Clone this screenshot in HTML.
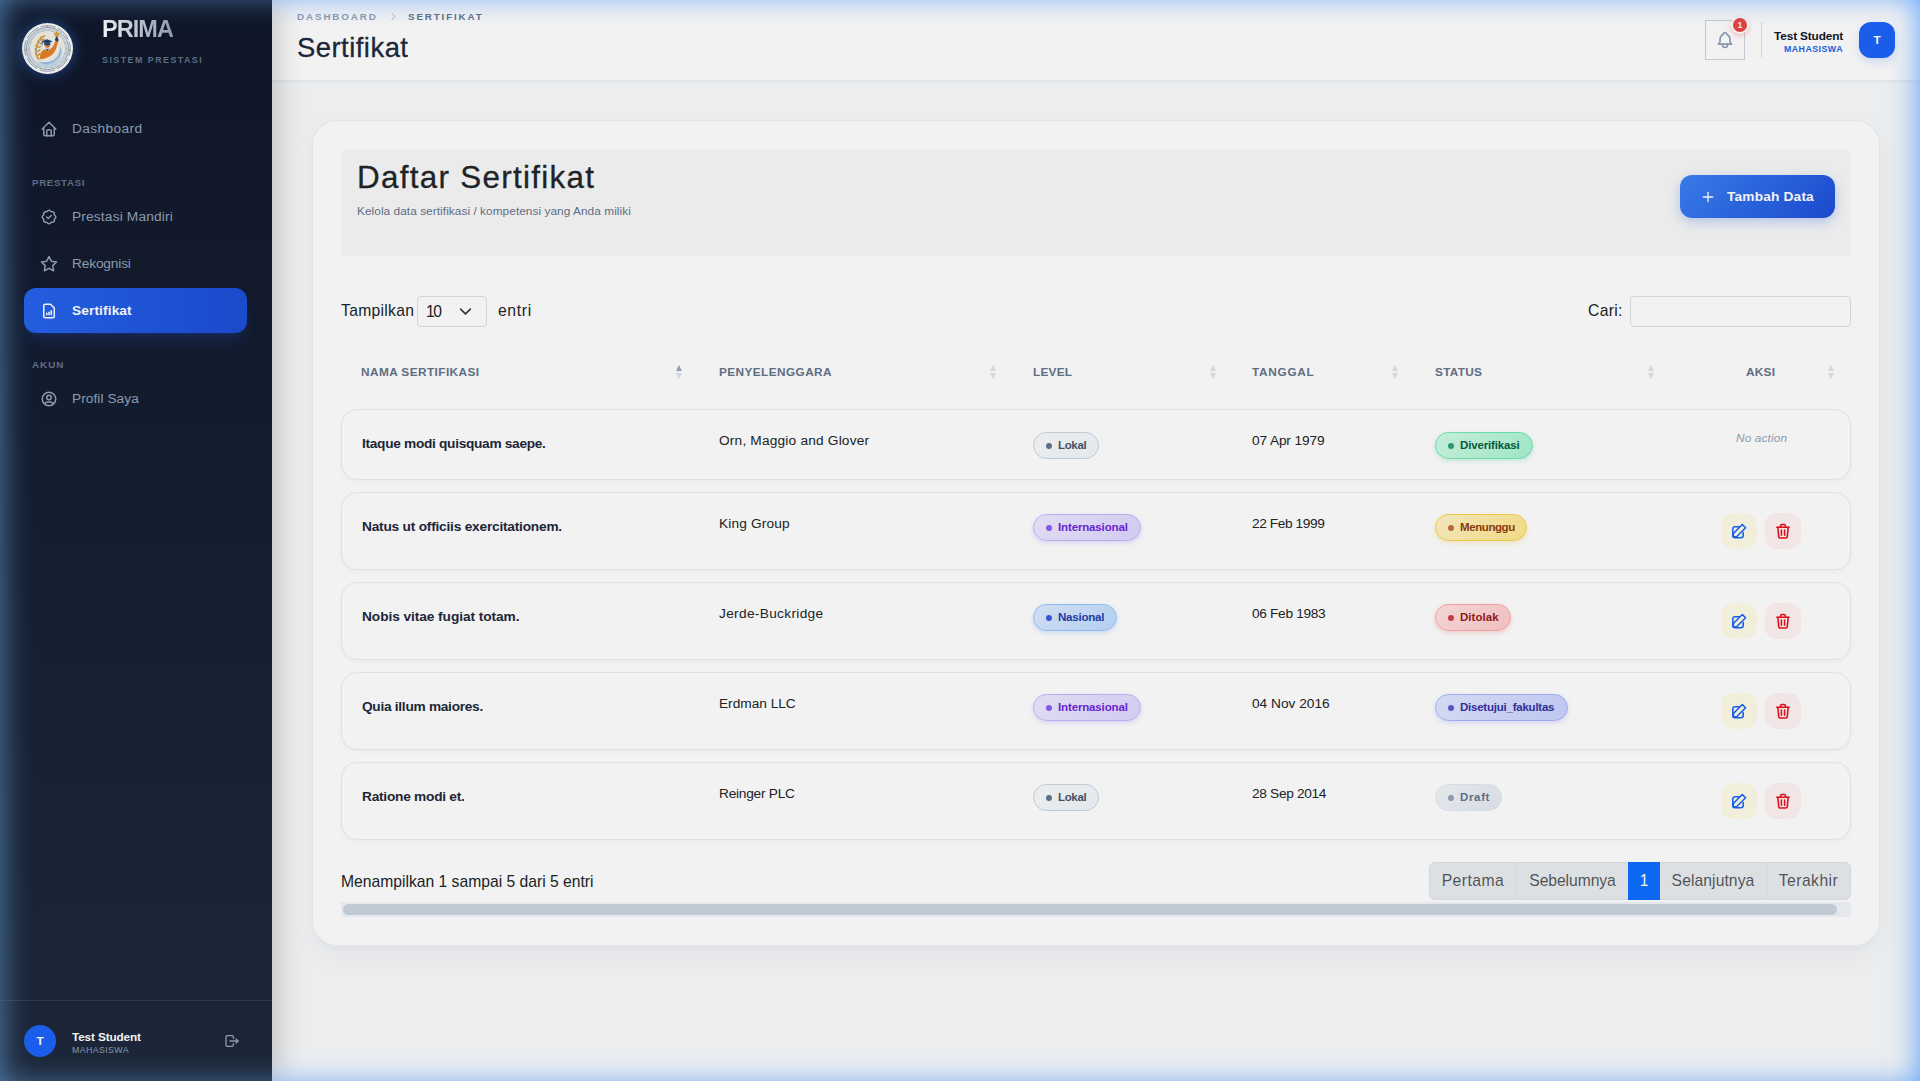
<!DOCTYPE html>
<html lang="id"><head>
<meta charset="utf-8">
<title>Sertifikat - PRIMA Sistem Prestasi</title>
<style>
:root{--f:"Liberation Sans",sans-serif}
*{box-sizing:border-box;margin:0;padding:0}
html,body{width:1920px;height:1081px;overflow:hidden}
body{position:relative;background:#f8fafc;font-family:var(--f);color:#212529;font-size:16px}
.a{position:absolute;white-space:nowrap;display:block}
svg{display:block;overflow:visible}
.ic{fill:none;stroke:currentColor;stroke-width:2;stroke-linecap:round;stroke-linejoin:round}

/* ---------- sidebar ---------- */
#sb{left:0;top:0;width:272px;height:1081px;background:linear-gradient(180deg,#0f172a,#1e293b);box-shadow:4px 0 28px rgba(0,0,0,.2);z-index:30;color:#94a3b8}
#logo{left:22px;top:23px;width:51px;height:51px;border-radius:50%;box-shadow:0 0 14px rgba(59,130,246,.55)}
#brand{left:102px;top:12px;font-size:24px;line-height:32px;font-weight:800;letter-spacing:-1.2px;color:#e2e8f0;background:linear-gradient(90deg,#ffffff,#94a3b8);-webkit-background-clip:text;background-clip:text;-webkit-text-fill-color:transparent}
#tag{left:102px;top:53px;font-size:9px;line-height:15px;font-weight:700;letter-spacing:1.8px;color:#64748b}
.sec{left:32px;font-size:10px;line-height:15px;font-weight:700;letter-spacing:1px;color:#64748b}
.nv{left:24px;width:223px;height:45px;border-radius:12px;color:#94a3b8;font-size:14px;font-weight:500}
.nv svg{position:absolute;left:16px;top:13.5px;width:18px;height:18px}
.nv span{position:absolute;left:48px;top:12px;line-height:21px}
.nv.on{background:linear-gradient(90deg,#2563eb,#1d4ed8);color:#fff;box-shadow:0 10px 15px -3px rgba(30,58,138,.45),0 4px 6px -4px rgba(30,58,138,.45)}
#sbf{left:0;top:1000px;width:272px;height:81px;border-top:1px solid rgba(51,65,85,.9)}
#sbav{left:24px;top:1025px;width:32px;height:32px;border-radius:50%;background:#1d62f8;color:#fff;font-size:12px;font-weight:700;line-height:32px;text-align:center}
#sbn{left:72px;top:1028px;font-size:12px;line-height:18px;font-weight:700;color:#fff}
#sbr{left:72px;top:1043px;font-size:9px;line-height:15px;font-weight:500;letter-spacing:.45px;color:#94a3b8}
#sbo{left:224px;top:1033px;width:16px;height:16px;color:#94a3b8}

/* ---------- header ---------- */
#hd{left:272px;top:0;width:1648px;height:81px;background:#fff;border-bottom:1px solid #edf0f4;box-shadow:0 1px 4px rgba(0,0,0,.045);z-index:20}
.bc{top:9px;font-size:10px;line-height:15px;font-weight:700;letter-spacing:2px}
#ttl{left:297px;top:29px;font-size:28px;line-height:36px;font-weight:500;letter-spacing:-.7px;color:#1e293b;-webkit-text-stroke:.3px #1e293b}
#bell{left:1705px;top:20px;width:40px;height:40px;border:1px solid #cbd5e1;color:#94a3b8}
#bell svg{position:absolute;left:9px;top:9px;width:20px;height:20px}
#bdg{left:1731px;top:16px;width:18px;height:18px;border-radius:50%;background:#ef4444;border:2px solid #fff;color:#fff;font-size:9px;font-weight:700;line-height:14px;text-align:center;box-shadow:0 2px 5px rgba(239,68,68,.3)}
#dv{left:1761px;top:22px;width:1px;height:36px;background:#dbe2ea}
#un{left:1643px;width:200px;top:27px;font-size:12px;line-height:18px;font-weight:700;color:#0f172a;text-align:right}
#ur{left:1643px;width:200px;top:42px;font-size:9px;line-height:15px;font-weight:700;letter-spacing:.45px;color:#2563eb;text-align:right}
#av{left:1859px;top:22px;width:36px;height:36px;border-radius:12px;background:#1d62f8;color:#fff;font-size:12px;font-weight:700;line-height:36px;text-align:center;box-shadow:0 4px 10px rgba(37,99,235,.18)}

/* ---------- card ---------- */
#card{left:312px;top:120px;width:1568px;height:826px;background:#fff;border:1px solid #eef2f6;border-radius:25px;box-shadow:0 10px 28px rgba(15,23,42,.04),0 2px 6px rgba(15,23,42,.025)}
#ch{left:341px;top:149px;width:1510px;height:107px;background:#f8f8f8;border-radius:5px}
#h2{left:357px;top:158px;font-size:32px;line-height:38px;font-weight:500;color:#212529;-webkit-text-stroke:.3px #212529}
#sub{left:357px;top:202px;font-size:12px;line-height:18px;color:#64748b}
#add{left:1680px;top:175px;width:155px;height:43px;border-radius:12px;background:linear-gradient(135deg,#3b82f6,#1d4ed8);color:#fff;box-shadow:0 4px 12px rgba(37,99,235,.28)}
#add svg{position:absolute;left:20px;top:13.5px;width:16px;height:16px}
#add span{position:absolute;left:47px;top:11px;font-size:14px;line-height:21px;font-weight:600}
.t16{font-size:16px;line-height:24px;color:#212529}
#sel{left:417px;top:296px;width:70px;height:31px;border:1px solid #dee2e6;border-radius:4px;background:#fff}
#sel span{position:absolute;left:8px;top:2px;font-size:16px;line-height:24px;color:#212529}
#sel svg{position:absolute;left:41px;top:8px;width:13px;height:13px;color:#343a40}
#srch{left:1630px;top:296px;width:221px;height:31px;border:1px solid #dee2e6;border-radius:4px;background:#fff}

.th{top:363px;font-size:12px;line-height:18px;font-weight:700;letter-spacing:.6px;color:#64748b}
.so{top:365px;width:8px;height:14px}
.so i{position:absolute;left:1px;width:0;height:0;border-left:3px solid transparent;border-right:3px solid transparent}
.so .u{top:-.5px;border-bottom:6px solid #e0e4e9}
.so .d{top:8px;border-top:6px solid #e0e4e9}
.so.asc .u{border-bottom-color:#9aa8bb}

.row{left:341px;width:1510px;background:#fff;border:1px solid #e9eef3;border-radius:16px;box-shadow:0 2px 4px rgba(15,23,42,.03)}
.nm{left:362px;font-size:14px;line-height:28px;font-weight:600;color:#1e293b}
.tx{font-size:14px;line-height:21px;color:#212529}
.bd{height:27px;border-radius:14px;border:1px solid;font-size:11.7px;font-weight:600;line-height:25px}
.bd i{position:absolute;left:12px;top:9.5px;width:6px;height:6px;border-radius:50%}
.bd span{position:absolute;left:24px;top:0}
.lok{background:linear-gradient(135deg,#f8fafc,#f1f5f9);border-color:#cbd5e1;color:#475569}.lok i{background:#64748b}
.int{background:linear-gradient(135deg,#ede9fe,#ddd6fe);border-color:#c4b5fd;color:#6d28d9;box-shadow:0 2px 5px rgba(139,92,246,.2)}.int i{background:#8b5cf6}
.nas{background:linear-gradient(135deg,#dbeafe,#bfdbfe);border-color:#93c5fd;color:#1e40af;box-shadow:0 2px 5px rgba(59,130,246,.2)}.nas i{background:#3b5bdb}
.ver{background:linear-gradient(135deg,#d1fae5,#a7f3d0);border-color:#6ee7b7;color:#065f46;box-shadow:0 2px 5px rgba(16,185,129,.2)}.ver i{background:#2f9e78}
.mng{background:linear-gradient(135deg,#fef3c7,#fde68a);border-color:#fcd34d;color:#92400e;box-shadow:0 2px 5px rgba(245,158,11,.2)}.mng i{background:#c2703a}
.tlk{background:linear-gradient(135deg,#fee2e2,#fecaca);border-color:#fca5a5;color:#991b1b;box-shadow:0 2px 5px rgba(239,68,68,.2)}.tlk i{background:#d14343}
.fak{background:linear-gradient(135deg,#e0e7ff,#c7d2fe);border-color:#a5b4fc;color:#3730a3;box-shadow:0 2px 5px rgba(99,102,241,.2)}.fak i{background:#5b5bd6}
.drf{background:linear-gradient(135deg,#f1f5f9,#e2e8f0);border-color:#e2e8f0;color:#64748b}.drf i{background:#94a3b8}
.na{left:1736px;font-size:12px;line-height:18px;font-style:italic;color:#94a3b8;width:51px;text-align:center}
.bt{width:36px;height:36px;border-radius:12px}
.bt svg{position:absolute;left:10px;top:10px;width:16px;height:16px}
.ed{left:1721px;background:#fefce8;color:#1a62f5}
.dl{left:1765px;background:#fef2f2;color:#e60f1e}

#info{left:341px;top:869px}
#pg{left:1429px;top:862px;width:422px;height:38px}
#pg span{position:absolute;top:0;height:38px;line-height:36px;font-size:16px;color:rgba(33,37,41,.75);text-align:center;border:1px solid #dee2e6;background:#e9ecef}
#pg span.on{background:#0d6efd;color:#fff;border-color:#0d6efd;z-index:2}
#trk{left:341px;top:902px;width:1510px;height:15px;background:#f1f5f9}
#thm{left:343px;top:904px;width:1494px;height:11px;border-radius:6px;background:#cbd5e1}

#dim{left:0;top:0;width:1920px;height:1081px;background:rgba(0,0,0,.05);z-index:90;pointer-events:none}
.gl{top:0;height:1081px;overflow:hidden;z-index:91;pointer-events:none}
.gl i{position:absolute;top:-6px;width:1920px;height:1093px}
#gl1{left:0;width:272px}#gl1 i{left:0;box-shadow:inset 0 0 32px rgba(90,140,190,.95)}
#gl2{left:272px;width:1648px}#gl2 i{left:-272px;box-shadow:inset 0 0 30px rgba(66,146,255,.9)}
</style>
</head>
<body>

<!-- SIDEBAR -->
<aside id="sb" class="a">
  <div id="logo" class="a"><svg viewBox="0 0 100 100" width="51" height="51"><circle cx="50" cy="50" r="50" fill="#fbfaf6"></circle><circle cx="50" cy="50" r="44.6" fill="none" stroke="#7388a5" stroke-width="1.5" stroke-dasharray="30.5 4.5" stroke-dashoffset="15.2"></circle><circle cx="50" cy="50" r="41.2" fill="none" stroke="#4f6788" stroke-width="1.2"></circle><circle cx="50" cy="50" r="37.8" fill="none" stroke="#9db0c8" stroke-width="3" stroke-dasharray="1.3 1.1"></circle><circle cx="50" cy="50" r="34.9" fill="none" stroke="#5f7797" stroke-width=".9"></circle><circle cx="50" cy="50" r="33.8" fill="#f3efe6"></circle><circle cx="6.2" cy="52.8" r="1.8" fill="#dc9a36"></circle><circle cx="93.6" cy="52.8" r="1.8" fill="#dc9a36"></circle><circle cx="49.8" cy="6.6" r="1.8" fill="#dc9a36"></circle><path d="M29 74c6 6 18 8 29 4 13-5 21-17 19.5-34 5 15-1 31-16 39-13 6-26 2-32.5-9z" fill="#c3ddf1"></path><path d="M31 73.500c8 5 20 5 30-1 10-6 15-17 14.5-29 3.5 13-1 26-12 33-11 7-25 5-32.5-3z" fill="#86b6df"></path><path d="M40 79.500c9 1 18-2 25-9 5-5 8-12 8.5-19 1.5 9-1.5 18-8 24-7 6-17 8-25.5 4z" fill="#a9cdea"></path><path d="M33.5 71.500c-6.5-9-7-22-.5-33 2.5-4.5 6-9 10-12.5" fill="none" stroke="#48608a" stroke-width="1.2"></path><g fill="#cf9a3c"><ellipse cx="42" cy="26.5" rx="4.3" ry="1.7" transform="rotate(-35 42 26.5)"></ellipse><ellipse cx="36" cy="30" rx="4.3" ry="1.7" transform="rotate(-62 36 30)"></ellipse><ellipse cx="41" cy="33" rx="4" ry="1.6" transform="rotate(-15 41 33)"></ellipse><ellipse cx="31.5" cy="36.5" rx="4.3" ry="1.7" transform="rotate(-72 31.5 36.5)"></ellipse><ellipse cx="37.5" cy="39.5" rx="4" ry="1.6" transform="rotate(-22 37.5 39.5)"></ellipse><ellipse cx="28.2" cy="44.5" rx="4.3" ry="1.7" transform="rotate(-84 28.2 44.5)"></ellipse><ellipse cx="34.5" cy="46.5" rx="4" ry="1.6" transform="rotate(-30 34.5 46.5)"></ellipse><ellipse cx="27" cy="53" rx="4.3" ry="1.7" transform="rotate(-98 27 53)"></ellipse><ellipse cx="33.2" cy="54" rx="4" ry="1.6" transform="rotate(-40 33.2 54)"></ellipse><ellipse cx="27.8" cy="61.5" rx="4.3" ry="1.7" transform="rotate(-112 27.8 61.5)"></ellipse><ellipse cx="33.8" cy="61.5" rx="4" ry="1.6" transform="rotate(-52 33.8 61.5)"></ellipse><ellipse cx="30.8" cy="68.5" rx="4" ry="1.6" transform="rotate(-130 30.8 68.5)"></ellipse></g><path d="M34.5 71c.5-9 2.5-15.5 7.5-18l3.5-1.5 4.2 4.2 4.3-4.200c4-1.5 6.5-4.5 8.5-9l3.8-8.5 5 1.5-3.5 12c-2 6.5-5 11.5-9.5 15-7 5.5-15 8-23.8 8.500z" fill="#e5802a"></path><circle cx="49.7" cy="44.3" r="4.8" fill="#e5802a"></circle><path d="M46.3 50.200l3.4 5.3 3.4-5.3-3.4 1.300z" fill="#1f3f73"></path><path d="M38 36.200l11-4.3 11 4.3-11 4.300z" fill="#1f3f73"></path><path d="M43.5 38.500v4c3.8 1.8 8.2 1.8 12 0v-4l-6 2.300z" fill="#1f3f73"></path><path d="M39.6 36.800v7.2" stroke="#1f3f73" stroke-width="1.1"></path><path d="M65.3 34.800c-.8-2.6-.2-4.8 1.5-6.200l.3-3.900c.1-.9 1.9-.9 2 0l.2 3.600c1.9 1.3 2.6 3.6 2 6.500l-.4 1.500z" fill="#1f3f73"></path><path d="M68.2 14.800l2.1 4.7 5.1.6-3.8 3.4 1.1 5-4.5-2.6-4.5 2.6 1.1-5-3.8-3.4 5.1-.6z" fill="#e0a33c"></path></svg></div>
  <div id="brand" class="a" style="font-size: 23.5px; letter-spacing: -0.96px; top: 12.7px;">PRIMA</div>
  <div id="tag" class="a" style="font-size: 8.8px; letter-spacing: 1.51px;">SISTEM PRESTASI</div>

  <a class="a nv" style="top:106px"><svg class="ic" viewBox="0 0 24 24"><path d="M5 12H3l9-9 9 9h-2"></path><path d="M5 12v7a2 2 0 0 0 2 2h10a2 2 0 0 0 2-2v-7"></path><path d="M9 21v-6a2 2 0 0 1 2-2h2a2 2 0 0 1 2 2v6"></path></svg><span style="font-size: 13.7px; letter-spacing: 0.38px; top: 12.4px;">Dashboard</span></a>

  <div class="a sec" style="top: 175.3px; font-size: 9.8px; letter-spacing: 0.6px;">PRESTASI</div>
  <a class="a nv" style="top:194px"><svg class="ic" viewBox="0 0 24 24"><path d="M5 7.2A2.2 2.2 0 0 1 7.2 5h1a2.2 2.2 0 0 0 1.55-.64l.7-.7a2.2 2.2 0 0 1 3.12 0l.7.7c.412.41.97.64 1.55.64h1a2.2 2.2 0 0 1 2.2 2.2v1c0 .58.23 1.138.64 1.55l.7.7a2.2 2.2 0 0 1 0 3.12l-.7.7a2.2 2.2 0 0 0-.64 1.55v1a2.2 2.2 0 0 1-2.2 2.2h-1a2.2 2.2 0 0 0-1.55.64l-.7.7a2.2 2.2 0 0 1-3.12 0l-.7-.7a2.2 2.2 0 0 0-1.55-.64h-1a2.2 2.2 0 0 1-2.2-2.2v-1a2.2 2.2 0 0 0-.64-1.55l-.7-.7a2.2 2.2 0 0 1 0-3.12l.7-.7A2.2 2.2 0 0 0 5 8.2v-1"></path><path d="M9 12l2 2 4-4"></path></svg><span style="font-size: 13.7px; letter-spacing: 0.18px; top: 12.4px;">Prestasi Mandiri</span></a>
  <a class="a nv" style="top:241px"><svg class="ic" viewBox="0 0 24 24"><path d="M12 17.75l-6.172 3.245 1.179-6.873-5-4.867 6.9-1L12 2.002l3.086 6.253 6.9 1-5 4.867 1.179 6.873z"></path></svg><span style="font-size: 13.7px; letter-spacing: -0.15px; top: 12.4px;">Rekognisi</span></a>
  <a class="a nv on" style="top:288px"><svg class="ic" viewBox="0 0 24 24"><path d="M17 21H7a2 2 0 0 1-2-2V5a2 2 0 0 1 2-2h7l5 5v11a2 2 0 0 1-2 2z"></path><path d="M9 17v-2"></path><path d="M12 17v-3.5"></path><path d="M15 17v-5.5"></path></svg><span style="font-weight: 600; font-size: 13.7px; letter-spacing: 0.12px; top: 12.4px;">Sertifikat</span></a>

  <div class="a sec" style="top: 357.3px; font-size: 9.8px; letter-spacing: 1.01px;">AKUN</div>
  <a class="a nv" style="top:376px"><svg class="ic" viewBox="0 0 24 24"><circle cx="12" cy="12" r="9"></circle><circle cx="12" cy="10" r="3"></circle><path d="M6.168 18.849A4 4 0 0 1 10 16h4a4 4 0 0 1 3.834 2.855"></path></svg><span style="font-size: 13.7px; letter-spacing: 0.06px; top: 12.4px;">Profil Saya</span></a>

  <div id="sbf" class="a"></div>
  <div id="sbav" class="a" style="font-size: 11.8px;">T</div>
  <div id="sbn" class="a" style="font-size: 11.8px; letter-spacing: -0.14px; top: 1028.4px;">Test Student</div>
  <div id="sbr" class="a" style="font-size: 8.8px; letter-spacing: 0.39px;">MAHASISWA</div>
  <svg id="sbo" class="a ic" viewBox="0 0 24 24"><path d="M14 8V6a2 2 0 0 0-2-2H5a2 2 0 0 0-2 2v12a2 2 0 0 0 2 2h7a2 2 0 0 0 2-2v-2"></path><path d="M9 12h12l-3-3"></path><path d="M18 15l3-3"></path></svg>
</aside>

<!-- HEADER -->
<header id="hd" class="a"></header>
<div style="position:absolute;left:0;top:0;z-index:25">
  <div class="a bc" style="left: 297px; color: rgb(148, 163, 184); font-size: 9.8px; letter-spacing: 1.9px; top: 9.3px;">DASHBOARD</div>
  <svg class="a ic" viewBox="0 0 24 24" style="left:387px;top:10px;width:13px;height:13px;color:#cbd5e1;stroke-width:2"><path d="M9 6l6 6-6 6"></path></svg>
  <div class="a bc" style="left: 408px; color: rgb(100, 116, 139); font-size: 9.8px; letter-spacing: 1.86px; top: 9.3px;">SERTIFIKAT</div>
  <h1 id="ttl" class="a" style="font-size: 27.4px; letter-spacing: 0.49px; top: 29.9px;">Sertifikat</h1>

  <div id="bell" class="a"><svg class="ic" viewBox="0 0 24 24"><path d="M10 5a2 2 0 1 1 4 0 7 7 0 0 1 4 6v3a4 4 0 0 0 2 3H4a4 4 0 0 0 2-3v-3a7 7 0 0 1 4-6"></path><path d="M9 17v1a3 3 0 0 0 6 0v-1"></path></svg></div>
  <div id="bdg" class="a" style="font-size: 8.8px;">1</div>
  <div id="dv" class="a"></div>
  <div id="un" class="a" style="font-size: 11.8px; letter-spacing: -0.14px; top: 27.4px;">Test Student</div>
  <div id="ur" class="a" style="font-size: 8.8px; letter-spacing: 0.48px;">MAHASISWA</div>
  <div id="av" class="a" style="font-size: 11.8px;">T</div>
</div>

<!-- CARD -->
<main>
<section id="card" class="a"></section>
<div id="ch" class="a"></div>
<h2 id="h2" class="a" style="font-size: 31.4px; letter-spacing: 1.29px; top: 159px;">Daftar Sertifikat</h2>
<p id="sub" class="a" style="font-size: 11.8px; letter-spacing: 0.07px; top: 202.4px;">Kelola data sertifikasi / kompetensi yang Anda miliki</p>
<a id="add" class="a"><svg class="ic" viewBox="0 0 24 24"><path d="M12 5v14"></path><path d="M5 12h14"></path></svg><span style="font-size: 13.7px; letter-spacing: 0.18px; top: 11.4px;">Tambah Data</span></a>

<label class="a t16" style="left: 341px; top: 298.5px; font-size: 15.7px; letter-spacing: 0.29px;">Tampilkan</label>
<div id="sel" class="a"><span style="font-size: 15.7px; letter-spacing: -1.39px; top: 2.5px;">10</span><svg class="ic" viewBox="0 0 16 16" style="stroke-width:2"><path d="M2 5l6 6 6-6"></path></svg></div>
<label class="a t16" style="left: 498px; top: 298.5px; font-size: 15.7px; letter-spacing: 0.65px;">entri</label>
<label class="a t16" style="left: 1588px; top: 298.5px; font-size: 15.7px; letter-spacing: 0.32px;">Cari:</label>
<div id="srch" class="a"></div>

<!-- table head -->
<div class="a th" style="left: 361px; font-size: 11.8px; letter-spacing: 0.43px; top: 363.4px;">NAMA SERTIFIKASI</div>
<div class="a th" style="left: 719px; font-size: 11.8px; letter-spacing: 0.42px; top: 363.4px;">PENYELENGGARA</div>
<div class="a th" style="left: 1033px; font-size: 11.8px; letter-spacing: 0.25px; top: 363.4px;">LEVEL</div>
<div class="a th" style="left: 1252px; font-size: 11.8px; letter-spacing: 0.71px; top: 363.4px;">TANGGAL</div>
<div class="a th" style="left: 1435px; font-size: 11.8px; letter-spacing: 0.3px; top: 363.4px;">STATUS</div>
<div class="a th" style="left: 1746px; font-size: 11.8px; letter-spacing: 0.25px; top: 363.4px;">AKSI</div>
<div class="a so asc" style="left:675px"><i class="u"></i><i class="d"></i></div>
<div class="a so" style="left:989px"><i class="u"></i><i class="d"></i></div>
<div class="a so" style="left:1209px"><i class="u"></i><i class="d"></i></div>
<div class="a so" style="left:1391px"><i class="u"></i><i class="d"></i></div>
<div class="a so" style="left:1647px"><i class="u"></i><i class="d"></i></div>
<div class="a so" style="left:1827px"><i class="u"></i><i class="d"></i></div>

<!-- row 1 -->
<article class="a row" style="top:409px;height:70.5px"></article>
<div class="a nm" style="top: 429.9px; font-size: 13.7px; letter-spacing: -0.3px;">Itaque modi quisquam saepe.</div>
<div class="a tx" style="left: 719px; top: 430.4px; font-size: 13.7px; letter-spacing: 0.19px;">Orn, Maggio and Glover</div>
<div class="a bd lok" style="left:1033px;top:432px;width:66px"><i></i><span style="font-size: 11.5px; letter-spacing: -0.34px; top: 0.3px;">Lokal</span></div>
<div class="a tx" style="left: 1252px; top: 430.4px; font-size: 13.7px; letter-spacing: -0.13px;">07 Apr 1979</div>
<div class="a bd ver" style="left:1435px;top:432px;width:98px"><i></i><span style="font-size: 11.5px; letter-spacing: -0.15px; top: 0.3px;">Diverifikasi</span></div>
<div class="a na" style="top: 429.4px; font-size: 11.8px; letter-spacing: 0.15px;">No action</div>

<!-- row 2 -->
<article class="a row" style="top:492px;height:77.5px"></article>
<div class="a nm" style="top: 512.9px; font-size: 13.7px; letter-spacing: -0.21px;">Natus ut officiis exercitationem.</div>
<div class="a tx" style="left: 719px; top: 513.4px; font-size: 13.7px; letter-spacing: 0.16px;">King Group</div>
<div class="a bd int" style="left:1033px;top:514px;width:108px"><i></i><span style="font-size: 11.5px; letter-spacing: -0.14px; top: 0.3px;">Internasional</span></div>
<div class="a tx" style="left: 1252px; top: 513.4px; font-size: 13.7px; letter-spacing: -0.4px;">22 Feb 1999</div>
<div class="a bd mng" style="left:1435px;top:514px;width:92px"><i></i><span style="font-size: 11.5px; letter-spacing: -0.41px; top: 0.3px;">Menunggu</span></div>
<a class="a bt ed" style="top:513px"><svg class="ic" viewBox="0 0 16 16" style="stroke-width:1.55"><path d="M8.3 3.7H4A2.2 2.2 0 0 0 1.8 5.9v6.7A2.2 2.2 0 0 0 4 14.8h6a2.2 2.2 0 0 0 2.2-2.2V9.6"></path><path d="M11.3 1.5l3.3 3.3-8.7 8.7-3.7.4.4-3.7z" fill="#fefce8"></path></svg></a>
<a class="a bt dl" style="top:513px"><svg class="ic" viewBox="0 0 16 16" style="stroke-width:1.55"><path d="M1.8 4.3h12.4"></path><path d="M5.5 4.1V3A1.5 1.5 0 0 1 7 1.5h2A1.5 1.5 0 0 1 10.5 3v1.1"></path><path d="M2.9 4.6l.8 9a1.4 1.4 0 0 0 1.4 1.3h5.8a1.4 1.4 0 0 0 1.4-1.3l.8-9"></path><path d="M6.4 7v5.2"></path><path d="M9.6 7v5.2"></path></svg></a>

<!-- row 3 -->
<article class="a row" style="top:582px;height:77.5px"></article>
<div class="a nm" style="top: 602.9px; font-size: 13.7px; letter-spacing: -0.06px;">Nobis vitae fugiat totam.</div>
<div class="a tx" style="left: 719px; top: 603.4px; font-size: 13.7px; letter-spacing: 0.32px;">Jerde-Buckridge</div>
<div class="a bd nas" style="left:1033px;top:604px;width:84px"><i></i><span style="font-size: 11.5px; letter-spacing: -0.21px; top: 0.3px;">Nasional</span></div>
<div class="a tx" style="left: 1252px; top: 603.4px; font-size: 13.7px; letter-spacing: -0.32px;">06 Feb 1983</div>
<div class="a bd tlk" style="left:1435px;top:604px;width:76px"><i></i><span style="font-size: 11.5px; letter-spacing: 0.05px; top: 0.3px;">Ditolak</span></div>
<a class="a bt ed" style="top:603px"><svg class="ic" viewBox="0 0 16 16" style="stroke-width:1.55"><path d="M8.3 3.7H4A2.2 2.2 0 0 0 1.8 5.9v6.7A2.2 2.2 0 0 0 4 14.8h6a2.2 2.2 0 0 0 2.2-2.2V9.6"></path><path d="M11.3 1.5l3.3 3.3-8.7 8.7-3.7.4.4-3.7z" fill="#fefce8"></path></svg></a>
<a class="a bt dl" style="top:603px"><svg class="ic" viewBox="0 0 16 16" style="stroke-width:1.55"><path d="M1.8 4.3h12.4"></path><path d="M5.5 4.1V3A1.5 1.5 0 0 1 7 1.5h2A1.5 1.5 0 0 1 10.5 3v1.1"></path><path d="M2.9 4.6l.8 9a1.4 1.4 0 0 0 1.4 1.3h5.8a1.4 1.4 0 0 0 1.4-1.3l.8-9"></path><path d="M6.4 7v5.2"></path><path d="M9.6 7v5.2"></path></svg></a>

<!-- row 4 -->
<article class="a row" style="top:672px;height:77.5px"></article>
<div class="a nm" style="top: 692.9px; font-size: 13.7px; letter-spacing: -0.28px;">Quia illum maiores.</div>
<div class="a tx" style="left: 719px; top: 693.4px; font-size: 13.7px; letter-spacing: -0.01px;">Erdman LLC</div>
<div class="a bd int" style="left:1033px;top:694px;width:108px"><i></i><span style="font-size: 11.5px; letter-spacing: -0.14px; top: 0.3px;">Internasional</span></div>
<div class="a tx" style="left: 1252px; top: 693.4px; font-size: 13.7px;">04 Nov 2016</div>
<div class="a bd fak" style="left:1435px;top:694px;width:133px"><i></i><span style="font-size: 11.5px; letter-spacing: -0.23px; top: 0.3px;">Disetujui_fakultas</span></div>
<a class="a bt ed" style="top:693px"><svg class="ic" viewBox="0 0 16 16" style="stroke-width:1.55"><path d="M8.3 3.7H4A2.2 2.2 0 0 0 1.8 5.9v6.7A2.2 2.2 0 0 0 4 14.8h6a2.2 2.2 0 0 0 2.2-2.2V9.6"></path><path d="M11.3 1.5l3.3 3.3-8.7 8.7-3.7.4.4-3.7z" fill="#fefce8"></path></svg></a>
<a class="a bt dl" style="top:693px"><svg class="ic" viewBox="0 0 16 16" style="stroke-width:1.55"><path d="M1.8 4.3h12.4"></path><path d="M5.5 4.1V3A1.5 1.5 0 0 1 7 1.5h2A1.5 1.5 0 0 1 10.5 3v1.1"></path><path d="M2.9 4.6l.8 9a1.4 1.4 0 0 0 1.4 1.3h5.8a1.4 1.4 0 0 0 1.4-1.3l.8-9"></path><path d="M6.4 7v5.2"></path><path d="M9.6 7v5.2"></path></svg></a>

<!-- row 5 -->
<article class="a row" style="top:762px;height:77.5px"></article>
<div class="a nm" style="top: 782.9px; font-size: 13.7px; letter-spacing: -0.24px;">Ratione modi et.</div>
<div class="a tx" style="left: 719px; top: 783.4px; font-size: 13.7px; letter-spacing: -0.24px;">Reinger PLC</div>
<div class="a bd lok" style="left:1033px;top:784px;width:66px"><i></i><span style="font-size: 11.5px; letter-spacing: -0.34px; top: 0.3px;">Lokal</span></div>
<div class="a tx" style="left: 1252px; top: 783.4px; font-size: 13.7px; letter-spacing: -0.32px;">28 Sep 2014</div>
<div class="a bd drf" style="left:1435px;top:784px;width:67px"><i></i><span style="font-size: 11.5px; letter-spacing: 0.65px; top: 0.3px;">Draft</span></div>
<a class="a bt ed" style="top:783px"><svg class="ic" viewBox="0 0 16 16" style="stroke-width:1.55"><path d="M8.3 3.7H4A2.2 2.2 0 0 0 1.8 5.9v6.7A2.2 2.2 0 0 0 4 14.8h6a2.2 2.2 0 0 0 2.2-2.2V9.6"></path><path d="M11.3 1.5l3.3 3.3-8.7 8.7-3.7.4.4-3.7z" fill="#fefce8"></path></svg></a>
<a class="a bt dl" style="top:783px"><svg class="ic" viewBox="0 0 16 16" style="stroke-width:1.55"><path d="M1.8 4.3h12.4"></path><path d="M5.5 4.1V3A1.5 1.5 0 0 1 7 1.5h2A1.5 1.5 0 0 1 10.5 3v1.1"></path><path d="M2.9 4.6l.8 9a1.4 1.4 0 0 0 1.4 1.3h5.8a1.4 1.4 0 0 0 1.4-1.3l.8-9"></path><path d="M6.4 7v5.2"></path><path d="M9.6 7v5.2"></path></svg></a>


<div id="info" class="a t16" style="font-size: 15.7px; letter-spacing: -0.01px; top: 869.5px;">Menampilkan 1 sampai 5 dari 5 entri</div>
<div id="pg" class="a"><span style="left: 0px; width: 88px; border-radius: 6px 0px 0px 6px; font-size: 15.7px; letter-spacing: 0.48px;">Pertama</span><span style="left: 87px; width: 113px; font-size: 15.7px; letter-spacing: -0.07px;">Sebelumnya</span><span class="on" style="left: 199px; width: 32px; font-size: 15.7px;">1</span><span style="left: 230px; width: 108px; font-size: 15.7px; letter-spacing: 0.07px;">Selanjutnya</span><span style="left: 337px; width: 85px; border-radius: 0px 6px 6px 0px; font-size: 15.7px; letter-spacing: 0.46px;">Terakhir</span></div>
<div id="trk" class="a"></div>
<div id="thm" class="a"></div>
</main>

<div id="dim" class="a"></div>
<div id="gl1" class="a gl"><i></i></div>
<div id="gl2" class="a gl"><i></i></div>


</body></html>
